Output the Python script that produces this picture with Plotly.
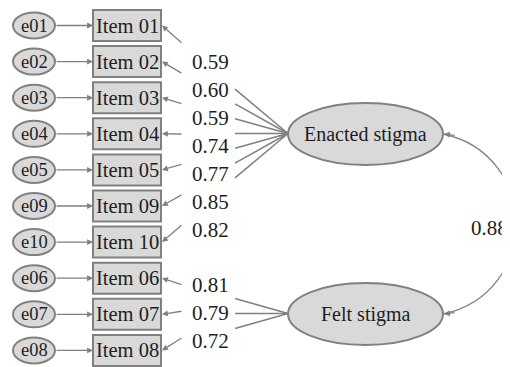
import plotly.graph_objects as go

# ---- data ----
enacted_items = ["Item 01", "Item 02", "Item 03", "Item 04", "Item 05", "Item 09", "Item 10"]
enacted_errors = ["e01", "e02", "e03", "e04", "e05", "e09", "e10"]
enacted_loadings = [0.59, 0.60, 0.59, 0.74, 0.77, 0.85, 0.82]

felt_items = ["Item 06", "Item 07", "Item 08"]
felt_errors = ["e06", "e07", "e08"]
felt_loadings = [0.81, 0.79, 0.72]

factors = ["Enacted stigma", "Felt stigma"]
factor_correlation = 0.88

# ---- layout constants ----
W, H = 510, 367
PAGE_MARGIN = 8  # browser body margin; data coords = page pixels
ROW0, ROW_STEP = 25.5, 36.1
E_X0, E_X1, E_RY = 13, 55, 13
BOX_X0, BOX_X1, BOX_H = 93, 161, 31
LAT_X0, LAT_X1, LAT_RY = 288, 443, 31
FONT = "Liberation Serif"
TXT = "#1e1e1e"
LINE = "#808080"
FILL = "#d9d9d9"

fig = go.Figure()
shapes = []
annotations = []

def add_group(items, errors, loadings, start_row, lat_cy, label_cy, arrow_cy, arrow_step, fan_step, label_step=28):
    n = len(items)
    mid = (n - 1) / 2
    for i, (it, er, ld) in enumerate(zip(items, errors, loadings)):
        y = ROW0 + (start_row + i) * ROW_STEP
        shapes.append(dict(type="line", x0=235, y0=lat_cy + (i - mid) * fan_step,
                           x1=LAT_X0, y1=lat_cy, line=dict(color=LINE, width=1.5), layer="below"))
        shapes.append(dict(type="circle", x0=E_X0, x1=E_X1, y0=y - E_RY, y1=y + E_RY,
                           fillcolor=FILL, line=dict(color=LINE, width=2)))
        shapes.append(dict(type="rect", x0=BOX_X0, x1=BOX_X1, y0=y - BOX_H / 2, y1=y + BOX_H / 2,
                           fillcolor=FILL, line=dict(color=LINE, width=2)))
        annotations.append(dict(x=(E_X0 + E_X1) / 2, y=y, text=er, showarrow=False,
                                font=dict(family=FONT, size=18.5, color=TXT)))
        annotations.append(dict(x=(BOX_X0 + BOX_X1) / 2, y=y, text=it, showarrow=False,
                                font=dict(family=FONT, size=20.5, color=TXT)))
        annotations.append(dict(x=BOX_X0, y=y, ax=E_X1, ay=y, axref="x", ayref="y", text="",
                                showarrow=True, arrowhead=2, arrowsize=0.9, arrowwidth=1.3,
                                arrowcolor=LINE, standoff=0))
        annotations.append(dict(x=BOX_X1 + 1, y=y, ax=183, ay=arrow_cy + (i - mid) * arrow_step,
                                axref="x", ayref="y", text="", showarrow=True, arrowhead=2,
                                arrowsize=0.9, arrowwidth=1.3, arrowcolor=LINE, standoff=0))
        annotations.append(dict(x=190, y=label_cy + (i - mid) * label_step, text=f"{ld:.2f}",
                                showarrow=False, xanchor="left",
                                font=dict(family=FONT, size=21, color=TXT)))

add_group(enacted_items, enacted_errors, enacted_loadings, 0, 133.5, 146, 134, 30, 14.8)
add_group(felt_items, felt_errors, felt_loadings, 7, 313.5, 313, 311, 26, 15)

for name, cy in zip(factors, [134, 314]):
    shapes.append(dict(type="circle", x0=LAT_X0, x1=LAT_X1, y0=cy - LAT_RY, y1=cy + LAT_RY,
                       fillcolor=FILL, line=dict(color=LINE, width=2)))
    annotations.append(dict(x=(LAT_X0 + LAT_X1) / 2, y=cy, text=name, showarrow=False,
                            font=dict(family=FONT, size=20, color=TXT)))

shapes.append(dict(type="path", path="M 443 134 C 540 154.5, 540 293.5, 443 314",
                   line=dict(color=LINE, width=1.3), layer="below"))
for (hx, hy, tx, ty) in [(444, 134, 456, 135.5), (444, 314, 456, 312.5)]:
    annotations.append(dict(x=hx, y=hy, ax=tx, ay=ty, axref="x", ayref="y", text="",
                            showarrow=True, arrowhead=2, arrowsize=0.9, arrowwidth=1.3,
                            arrowcolor=LINE, standoff=0))
annotations.append(dict(x=509, y=228, text=f"{factor_correlation:.2f}", showarrow=False,
                        xanchor="right", bgcolor="white", borderpad=0,
                        font=dict(family=FONT, size=21, color=TXT)))

fig.update_layout(
    width=W - PAGE_MARGIN, height=H - PAGE_MARGIN, margin=dict(l=0, r=0, t=0, b=0),
    paper_bgcolor="white", plot_bgcolor="white",
    xaxis=dict(range=[PAGE_MARGIN, W], visible=False, fixedrange=True),
    yaxis=dict(range=[H, PAGE_MARGIN], visible=False, fixedrange=True),
    shapes=shapes, annotations=annotations, showlegend=False,
)
fig.write_html("out.html")
